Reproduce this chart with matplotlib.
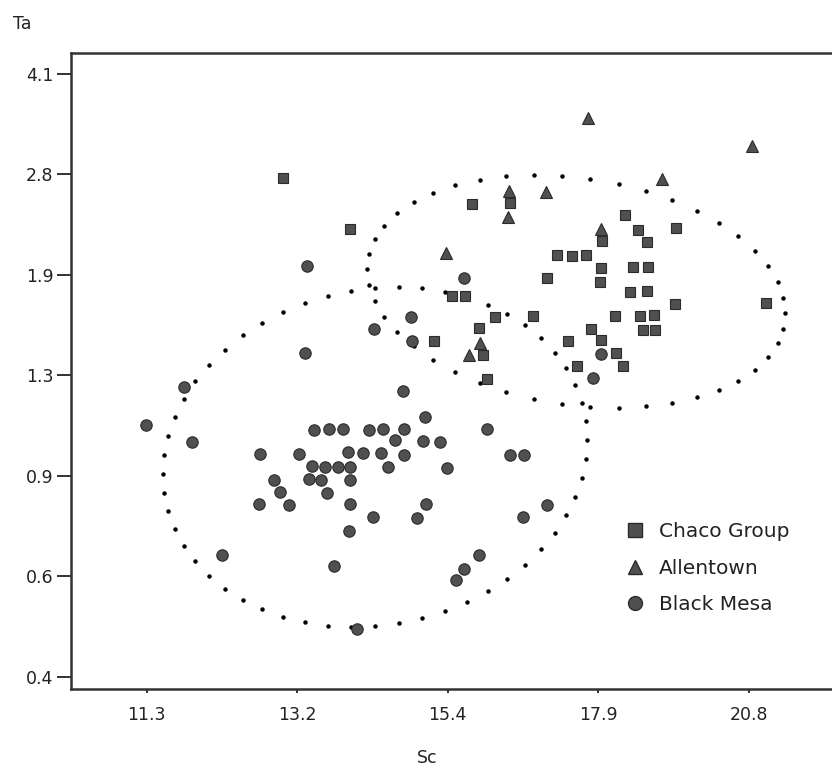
import numpy as np
import matplotlib
matplotlib.use("Agg")
import matplotlib.pyplot as plt
from matplotlib.lines import Line2D
from matplotlib.ticker import FixedLocator, FixedFormatter, NullLocator

# Sc (x) and Ta (y) values, log-log axes
chaco_sc = [12.97, 13.89, 15.72, 16.33, 18.34, 18.60, 19.32, 17.92, 18.77, 17.13,
            17.39, 17.64, 17.90, 18.50, 18.78, 16.96, 17.89, 18.44, 18.76, 21.16,
            19.30, 15.39, 15.60, 16.08, 16.72, 18.17, 18.62, 18.89, 15.83, 18.69,
            18.91, 17.72, 15.12, 17.32, 17.91, 15.89, 18.18, 17.48, 18.31, 15.95]
chaco_ta = [2.746, 2.251, 2.480, 2.487, 2.377, 2.245, 2.260, 2.152, 2.139, 2.036,
            2.030, 2.041, 1.941, 1.946, 1.946, 1.861, 1.839, 1.766, 1.776, 1.696,
            1.689, 1.742, 1.742, 1.604, 1.613, 1.611, 1.611, 1.619, 1.539, 1.525,
            1.523, 1.533, 1.461, 1.463, 1.467, 1.387, 1.394, 1.327, 1.327, 1.264]

allen_sc = [17.67, 20.87, 19.05, 16.32, 16.93, 16.30, 17.91, 15.31, 15.84, 15.67]
allen_ta = [3.454, 3.107, 2.732, 2.611, 2.595, 2.356, 2.257, 2.052, 1.452, 1.383]

mesa_sc = [13.29, 15.59, 14.77, 14.23, 14.78, 13.26, 11.74, 14.65, 11.29, 14.98,
           11.83, 13.39, 13.59, 13.79, 14.16, 14.35, 14.66, 15.96, 14.53, 14.95,
           15.21, 12.68, 13.18, 13.86, 14.07, 14.33, 14.66, 16.33, 16.56, 13.36,
           13.54, 13.71, 13.89, 14.43, 15.32, 12.86, 13.32, 13.48, 13.89, 12.94,
           13.56, 12.66, 13.05, 13.88, 14.99, 16.95, 14.21, 14.86, 16.55, 13.87,
           12.19, 13.66, 15.83, 15.59, 15.46, 13.99, 17.91, 17.77]
mesa_ta = [1.953, 1.861, 1.606, 1.529, 1.463, 1.394, 1.223, 1.205, 1.056, 1.089,
           0.990, 1.038, 1.039, 1.042, 1.038, 1.039, 1.039, 1.042, 0.998, 0.992,
           0.989, 0.946, 0.946, 0.954, 0.950, 0.949, 0.942, 0.942, 0.942, 0.901,
           0.900, 0.900, 0.900, 0.898, 0.894, 0.856, 0.859, 0.856, 0.856, 0.816,
           0.813, 0.780, 0.777, 0.778, 0.780, 0.777, 0.742, 0.738, 0.742, 0.703,
           0.641, 0.613, 0.640, 0.607, 0.581, 0.480, 1.392, 1.265]

x_tick_labels = ["11.3", "13.2", "15.4", "17.9", "20.8"]
y_tick_labels = ["0.4", "0.6", "0.9", "1.3", "1.9", "2.8", "4.1"]

# group ellipses: centre (Sc, Ta), half extents in ln units, correlation
ellipses = [
    dict(center=(17.46, 1.771), hx=0.212, hy=0.449, rho=-0.19, n=46),
    dict(center=(14.24, 0.934), hx=0.215, hy=0.656, rho=0.10, n=56),
]

fill = "#505050"
edge = "#2b2b2b"

fig = plt.figure(figsize=(8.32, 7.67), dpi=100)
ax = fig.add_axes([0.0859, 0.1013, 0.9141, 0.8300])
ax.set_xscale("log")
ax.set_yscale("log")
ax.set_xlim(10.47, 22.63)
ax.set_ylim(0.381, 4.45)

for e in ellipses:
    t = np.linspace(0, 2 * np.pi, e["n"], endpoint=False)
    lx = np.log(e["center"][0]) + e["hx"] * np.cos(t)
    ly = np.log(e["center"][1]) + e["hy"] * (e["rho"] * np.cos(t)
                                             + np.sqrt(1 - e["rho"] ** 2) * np.sin(t))
    ax.plot(np.exp(lx), np.exp(ly), linestyle="none", marker="o",
            markersize=2.2, color="black", zorder=2)

ax.plot(chaco_sc, chaco_ta, linestyle="none", marker="s", markersize=7.8,
        markerfacecolor=fill, markeredgecolor=edge, markeredgewidth=0.8, zorder=3)
ax.plot(allen_sc, allen_ta, linestyle="none", marker="^", markersize=9,
        markerfacecolor=fill, markeredgecolor=edge, markeredgewidth=0.8, zorder=3)
ax.plot(mesa_sc, mesa_ta, linestyle="none", marker="o", markersize=8.2,
        markerfacecolor=fill, markeredgecolor=edge, markeredgewidth=0.8, zorder=3)

# evenly spaced log ticks, labelled as in the original
xt = [11.3 * (20.8 / 11.3) ** (k / 4) for k in range(5)]
yt = [0.4 * (4.1 / 0.4) ** (k / 6) for k in range(7)]
ax.xaxis.set_major_locator(FixedLocator(xt))
ax.xaxis.set_major_formatter(FixedFormatter(x_tick_labels))
ax.yaxis.set_major_locator(FixedLocator(yt))
ax.yaxis.set_major_formatter(FixedFormatter(y_tick_labels))
ax.xaxis.set_minor_locator(NullLocator())
ax.yaxis.set_minor_locator(NullLocator())

ax.tick_params(axis="y", direction="out", length=10, width=1.3, pad=3,
               labelsize=12.5, colors="#222222")
ax.tick_params(axis="x", direction="out", length=3, width=1.3, pad=9,
               labelsize=12.5, colors="#222222")

for side in ["left", "bottom", "top"]:
    ax.spines[side].set_linewidth(1.8)
    ax.spines[side].set_color("#333333")
ax.spines["right"].set_visible(False)

fig.text(13 / 832, 1 - 24 / 767, "Ta", ha="left", va="center",
         fontsize=12.5, color="#222222")
fig.text(427 / 832, 1 - 758 / 767, "Sc", ha="center", va="center",
         fontsize=12.5, color="#222222")

handles = [
    Line2D([], [], linestyle="none", marker="s", markersize=9.5,
           markerfacecolor=fill, markeredgecolor=edge),
    Line2D([], [], linestyle="none", marker="^", markersize=10.5,
           markerfacecolor=fill, markeredgecolor=edge),
    Line2D([], [], linestyle="none", marker="o", markersize=10,
           markerfacecolor=fill, markeredgecolor=edge),
]
ax.legend(handles, ["Chaco Group", "Allentown", "Black Mesa"],
          loc="upper left", bbox_to_anchor=(625 / 832, 1 - 522 / 767),
          bbox_transform=fig.transFigure, frameon=False, fontsize=14.5,
          handlelength=1.0, handletextpad=0.7, labelspacing=0.88,
          borderpad=0, borderaxespad=0, labelcolor="#222222")

fig.savefig("out.png", dpi=100)
